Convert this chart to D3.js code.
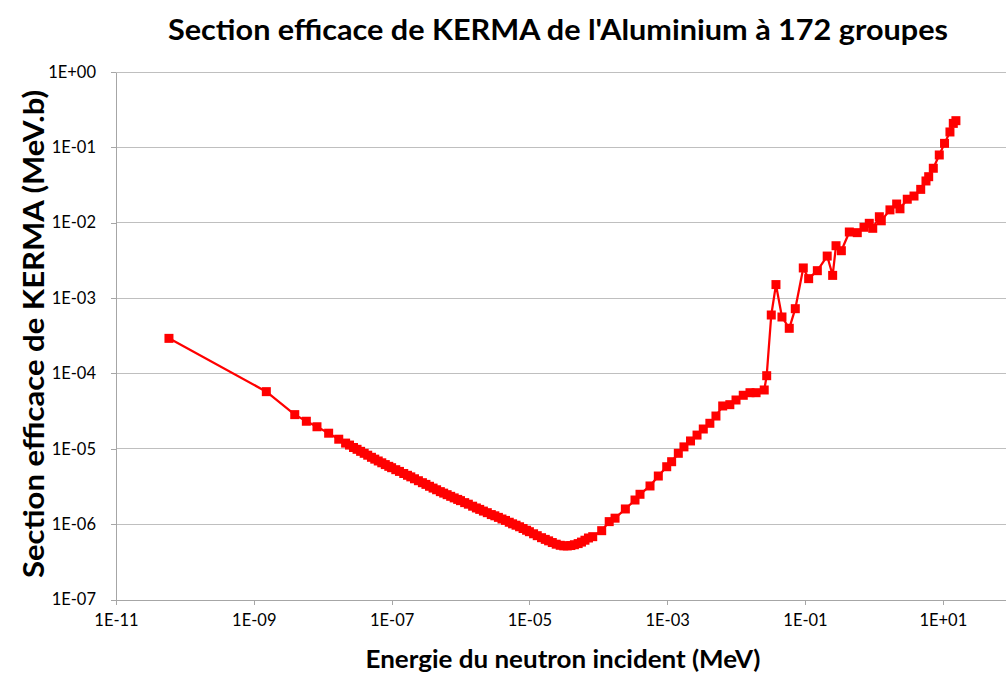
<!DOCTYPE html>
<html><head><meta charset="utf-8">
<script src="https://cdn.jsdelivr.net/npm/d3@7"></script>
<style>body{margin:0;background:#fff} svg{display:block}</style>
</head><body><svg id="c" width="1006" height="677"></svg>
<script>
const chartTitle = "Section efficace de KERMA de l'Aluminium à 172 groupes";
const xTitle = "Energie du neutron incident (MeV)";
const yTitle = "Section efficace de KERMA (MeV.b)";
const xTicks = [1e-11, 1e-9, 1e-7, 1e-5, 1e-3, 1e-1, 1e1];
const xTickLabels = ["1E-11", "1E-09", "1E-07", "1E-05", "1E-03", "1E-01", "1E+01"];
const yTicks = [1e0, 1e-1, 1e-2, 1e-3, 1e-4, 1e-5, 1e-6, 1e-7];
const yTickLabels = ["1E+00", "1E-01", "1E-02", "1E-03", "1E-04", "1E-05", "1E-06", "1E-07"];

// thermal groups (MeV, MeV.b)
const energyLow = [5.87e-11, 1.52e-9, 3.93e-9, 5.79e-9, 8.26e-9, 1.22e-8, 1.71e-8];
const kermaLow  = [2.92e-4, 5.73e-5, 2.84e-5, 2.32e-5, 1.96e-5, 1.61e-5, 1.34e-5];

// epithermal / resonance groups
const energyMid = [2.15e-8, 2.45e-8, 2.8e-8, 3.15e-8, 3.55e-8, 4.0e-8, 4.5e-8, 5.1e-8, 5.7e-8, 6.4e-8,
  7.2e-8, 8.1e-8, 9.1e-8, 1.0e-7, 1.15e-7, 1.3e-7, 1.5e-7, 1.7e-7, 1.9e-7, 2.15e-7,
  2.45e-7, 2.8e-7, 3.15e-7, 3.55e-7, 4.0e-7, 4.5e-7, 5.1e-7, 5.7e-7, 6.4e-7, 7.2e-7,
  8.1e-7, 9.1e-7, 1.0e-6, 1.15e-6, 1.3e-6, 1.5e-6, 1.7e-6, 1.9e-6, 2.15e-6, 2.45e-6,
  2.8e-6, 3.15e-6, 3.55e-6, 4.0e-6, 4.5e-6, 5.1e-6, 5.7e-6, 6.4e-6, 7.2e-6, 8.1e-6,
  9.1e-6, 1.0e-5, 1.15e-5, 1.3e-5, 1.5e-5, 1.7e-5, 1.9e-5, 2.15e-5, 2.45e-5, 2.8e-5,
  3.15e-5, 3.55e-5, 4.0e-5, 4.5e-5, 5.1e-5, 5.7e-5, 6.4e-5, 7.2e-5];
const kermaMid = [1.19e-5, 1.12e-5, 1.04e-5, 9.84e-6, 9.25e-6, 8.71e-6, 8.22e-6, 7.71e-6, 7.29e-6, 6.89e-6,
  6.52e-6, 6.17e-6, 5.85e-6, 5.61e-6, 5.28e-6, 5.01e-6, 4.70e-6, 4.45e-6, 4.24e-6, 4.00e-6,
  3.77e-6, 3.55e-6, 3.37e-6, 3.18e-6, 3.01e-6, 2.86e-6, 2.70e-6, 2.58e-6, 2.46e-6, 2.34e-6,
  2.23e-6, 2.13e-6, 2.05e-6, 1.93e-6, 1.84e-6, 1.73e-6, 1.64e-6, 1.57e-6, 1.49e-6, 1.42e-6,
  1.34e-6, 1.29e-6, 1.23e-6, 1.17e-6, 1.12e-6, 1.06e-6, 1.01e-6, 9.68e-7, 9.23e-7, 8.75e-7,
  8.30e-7, 7.94e-7, 7.45e-7, 7.03e-7, 6.61e-7, 6.28e-7, 6.00e-7, 5.70e-7, 5.42e-7, 5.24e-7,
  5.15e-7, 5.14e-7, 5.20e-7, 5.33e-7, 5.52e-7, 5.78e-7, 6.12e-7, 6.55e-7];

// fast groups
const energyHigh = [8.30e-5, 1.12e-4, 1.44e-4, 1.75e-4, 2.47e-4, 3.41e-4, 4.03e-4, 5.63e-4, 7.43e-4, 9.84e-4,
  1.16e-3, 1.45e-3, 1.75e-3, 2.18e-3, 2.71e-3, 3.34e-3, 4.16e-3, 5.10e-3, 6.39e-3, 8.11e-3,
  9.97e-3, 1.27e-2, 1.59e-2, 1.95e-2, 2.56e-2, 2.78e-2, 3.24e-2, 3.79e-2, 4.63e-2, 5.91e-2,
  7.23e-2, 9.44e-2, 0.113, 0.151, 0.210, 0.252, 0.282, 0.337, 0.440, 0.574,
  0.718, 0.857, 0.962, 1.20, 1.28, 1.71, 2.14, 2.39, 3.05, 3.82,
  4.78, 5.70, 6.24, 7.28, 8.89, 10.6, 12.7, 14.2, 15.5];
const kermaHigh = [6.82e-7, 8.19e-7, 1.08e-6, 1.20e-6, 1.59e-6, 2.09e-6, 2.49e-6, 3.21e-6, 4.35e-6, 5.78e-6,
  6.74e-6, 8.71e-6, 1.06e-5, 1.27e-5, 1.52e-5, 1.83e-5, 2.18e-5, 2.72e-5, 3.70e-5, 3.85e-5,
  4.44e-5, 5.13e-5, 5.55e-5, 5.55e-5, 6.03e-5, 9.33e-5, 5.96e-4, 1.51e-3, 5.61e-4, 3.97e-4,
  7.23e-4, 2.51e-3, 1.81e-3, 2.31e-3, 3.61e-3, 2.00e-3, 4.95e-3, 4.25e-3, 7.53e-3, 7.38e-3,
  8.70e-3, 9.82e-3, 8.43e-3, 1.20e-2, 1.06e-2, 1.48e-2, 1.77e-2, 1.53e-2, 2.05e-2, 2.26e-2,
  2.77e-2, 3.58e-2, 4.08e-2, 5.28e-2, 7.92e-2, 0.113, 0.160, 0.208, 0.226];

const energy = energyLow.concat(energyMid, energyHigh);
const kerma = kermaLow.concat(kermaMid, kermaHigh);
const data = energy.map((e, i) => ({e: e, k: kerma[i]}));

const W = 1006, H = 677;
const plotLeft = 116, plotTop = 72, plotBottom = 599.5;
const svg = d3.select("#c");
const x = d3.scaleLog().domain([1e-11, 1e2]).range([plotLeft, plotLeft + 13 * 68.9]);
const y = d3.scaleLog().domain([1e-7, 1e0]).range([plotBottom, plotTop]);
const font = "Lato, 'Open Sans', 'Liberation Sans', sans-serif";

// gridlines
svg.append("g").selectAll("line").data(yTicks.slice(0, -1)).join("line")
  .attr("x1", plotLeft).attr("x2", W)
  .attr("y1", d => y(d)).attr("y2", d => y(d))
  .attr("stroke", "#BFBFBF").attr("stroke-width", 1).attr("shape-rendering", "crispEdges");

// x axis
const xAxis = svg.append("g").attr("transform", `translate(0,${plotBottom})`)
  .call(d3.axisBottom(x).tickValues(xTicks).tickFormat((d, i) => xTickLabels[i]).tickSize(5).tickSizeOuter(0).tickPadding(10));
xAxis.select(".domain").attr("stroke", "#A6A6A6").attr("shape-rendering", "crispEdges");
xAxis.selectAll(".tick line").attr("stroke", "#A6A6A6").attr("shape-rendering", "crispEdges");
xAxis.selectAll("text").attr("font-family", font).attr("font-size", 16.5).attr("fill", "#000");

// y axis
const yAxis = svg.append("g").attr("transform", `translate(${plotLeft},0)`)
  .call(d3.axisLeft(y).tickValues(yTicks).tickFormat((d, i) => yTickLabels[i]).tickSize(5).tickSizeOuter(0).tickPadding(15));
yAxis.select(".domain").attr("stroke", "#A6A6A6").attr("shape-rendering", "crispEdges");
yAxis.selectAll(".tick line").attr("stroke", "#A6A6A6").attr("shape-rendering", "crispEdges");
yAxis.selectAll("text").attr("font-family", font).attr("font-size", 16.5).attr("fill", "#000");

// series
const line = d3.line().x(d => x(d.e)).y(d => y(d.k));
svg.append("path").datum(data).attr("d", line)
  .attr("fill", "none").attr("stroke", "#FF0000").attr("stroke-width", 2.25).attr("stroke-linejoin", "round");
const ms = 9;
svg.append("g").selectAll("rect").data(data).join("rect")
  .attr("x", d => x(d.e) - ms / 2).attr("y", d => y(d.k) - ms / 2)
  .attr("width", ms).attr("height", ms).attr("fill", "#FF0000");

// titles
svg.append("text").attr("x", 558).attr("y", 40).attr("text-anchor", "middle")
  .attr("font-family", font).attr("font-weight", "bold").attr("font-size", 29)
  .attr("textLength", 780).attr("lengthAdjust", "spacingAndGlyphs").text(chartTitle);
svg.append("text").attr("x", 563).attr("y", 668).attr("text-anchor", "middle")
  .attr("font-family", font).attr("font-weight", "bold").attr("font-size", 24)
  .attr("textLength", 395).attr("lengthAdjust", "spacingAndGlyphs").text(xTitle);
svg.append("text").attr("transform", "translate(44,334) rotate(-90)").attr("text-anchor", "middle")
  .attr("font-family", font).attr("font-weight", "bold").attr("font-size", 29)
  .attr("textLength", 488).attr("lengthAdjust", "spacingAndGlyphs").text(yTitle);
</script>
</body></html>
